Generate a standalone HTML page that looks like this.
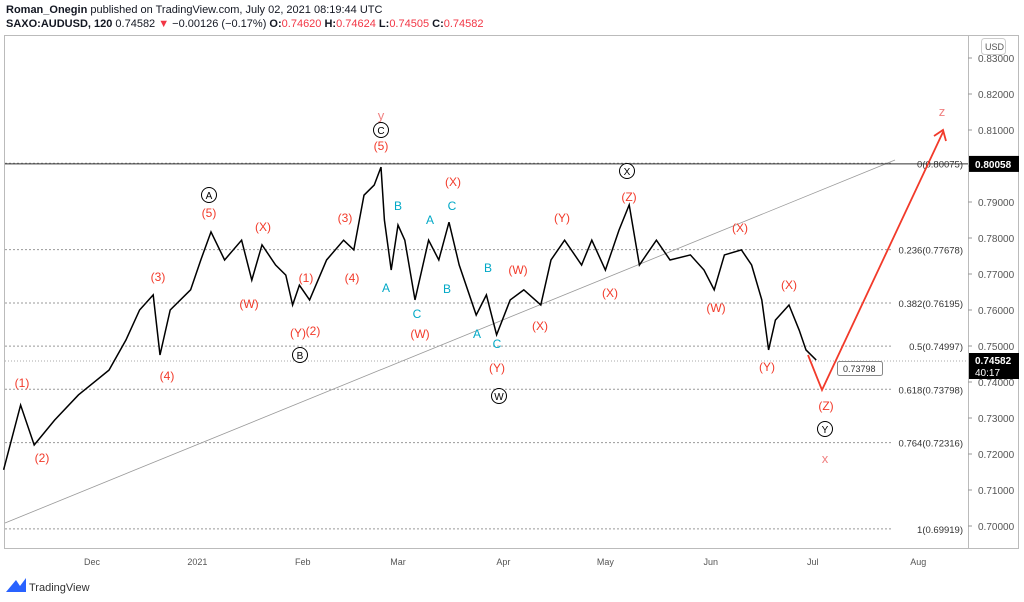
<!DOCTYPE html>
<html><head><meta charset="utf-8"><style>
body{margin:0;width:1024px;height:602px;background:#fff;font-family:"Liberation Sans",sans-serif;overflow:hidden;position:relative}
.hd{position:absolute;left:6px;font-size:11px;color:#131722;white-space:nowrap}
svg text{font-family:"Liberation Sans",sans-serif}
</style></head><body>
<div class="hd" style="top:4px"><b>Roman_Onegin</b> published on TradingView.com, July 02, 2021 08:19:44 UTC</div>
<div class="hd" style="top:18px"><b>SAXO:AUDUSD, 120</b> 0.74582 <span style="color:#f23645">▼</span> −0.00126 (−0.17%) <b>O:</b><span style="color:#f23645">0.74620</span> <b>H:</b><span style="color:#f23645">0.74624</span> <b>L:</b><span style="color:#f23645">0.74505</span> <b>C:</b><span style="color:#f23645">0.74582</span></div>
<svg id="c" width="1024" height="602" style="position:absolute;left:0;top:0"></svg>
<script>
const days=[-26,-21,-17,-11,-4,5,10,14,18,20,23,29,32,35,39,44,47,50,54,57,59,61,64,69,74,77,80,83,85,86,88,90,92,95,99,102,105,108,113,116,119,123,127,132,135,139,144,147,151,155,158,161,166,170,176,180,183,186,191,194,197,199,201,205,208,210,213];
const prices=[.7156,.7336,.7225,.7294,.7364,.7433,.7517,.76,.7642,.7475,.76,.7656,.7739,.7817,.7739,.7794,.7683,.7781,.7725,.7697,.7614,.7669,.7628,.7739,.7794,.7767,.7919,.7947,.7997,.785,.7711,.7836,.7794,.7628,.7794,.7739,.7844,.7725,.7586,.7642,.7531,.7628,.7656,.7614,.7739,.7794,.7725,.7794,.7711,.7822,.7892,.7725,.7794,.7739,.7753,.7711,.7656,.7753,.7767,.7725,.7628,.7489,.7572,.7614,.7544,.7489,.7461];
const yTicks=[0.83,0.82,0.81,0.80,0.79,0.78,0.77,0.76,0.75,0.74,0.73,0.72,0.71,0.70];
const fibRatios=["0","0.236","0.382","0.5","0.618","0.764","1"];
const fibPrices=[0.80075,0.77678,0.76195,0.74997,0.73798,0.72316,0.69919];
const monthLabels=["Dec","2021","Feb","Mar","Apr","May","Jun","Jul","Aug"];
const monthDays=[0,31,62,90,121,151,182,212,243];
const X=d=>92+d*3.4;
const Y=p=>58+(0.83-p)*3600;
const svg=document.getElementById('c');const NS='http://www.w3.org/2000/svg';
function mk(t,a,txt){const e=document.createElementNS(NS,t);for(const k in a)e.setAttribute(k,a[k]);if(txt!=null)e.textContent=txt;svg.appendChild(e);return e;}
let e;
e=mk('rect',{x:4.5,y:35.5,width:1014,height:513,fill:'none',stroke:'#bbb'});


e=mk('line',{x1:968.5,y1:35,x2:968.5,y2:548,stroke:'#bbb'});


e=mk('line',{x1:4,y1:548.5,x2:1018,y2:548.5,stroke:'#bbb'});


yTicks.forEach(p=>{const y=Y(p);
e=mk('line',{x1:968,y1:y,x2:972,y2:y,stroke:'#999'});


e=mk('text',{x:978,y:y+4,'font-size':10,fill:'#555'},p.toFixed(5));

});
e=mk('rect',{x:981.5,y:38.5,width:24,height:16,rx:3,fill:'#fff',stroke:'#ccc'});


e=mk('text',{x:985,y:50,'font-size':9,fill:'#555'},'USD');


monthLabels.forEach((m,i)=>{
e=mk('text',{x:X(monthDays[i]),y:565,'font-size':9,fill:'#555','text-anchor':'middle'},m);

});
e=mk('line',{x1:5,y1:523,x2:895,y2:160,stroke:'#999','stroke-width':0.8});


fibPrices.forEach((p,i)=>{const y=Y(p);
e=mk('line',{x1:5,y1:y,x2:893,y2:y,stroke:'#999','stroke-dasharray':'2,2'});


e=mk('text',{x:963,y:y+4,'font-size':9.5,fill:'#333','text-anchor':'end'},fibRatios[i]+'('+p.toFixed(5)+')');

});
e=mk('line',{x1:5,y1:Y(0.80058),x2:968,y2:Y(0.80058),stroke:'#333'});


e=mk('line',{x1:5,y1:Y(0.74582),x2:968,y2:Y(0.74582),stroke:'#aaa','stroke-dasharray':'1,2'});


e=mk('polyline',{points:days.map((d,i)=>X(d)+','+Y(prices[i])).join(' '),fill:'none',stroke:'#000','stroke-width':1.5});


e=mk('rect',{x:969,y:Y(0.80058)-8,width:50,height:16,fill:'#000'});


e=mk('text',{x:975,y:Y(0.80058)+4,'font-size':10,'font-weight':'bold',fill:'#fff'},'0.80058');


e=mk('rect',{x:969,y:353,width:50,height:26,fill:'#000'});


e=mk('text',{x:975,y:364,'font-size':10,'font-weight':'bold',fill:'#fff'},'0.74582');


e=mk('text',{x:975,y:376,'font-size':10,fill:'#fff'},'40:17');


e=mk('polyline',{points:'808,355 822,390 943,132',fill:'none',stroke:'#f23a2a','stroke-width':1.8});


e=mk('polyline',{points:'934,136 943,130 946,141',fill:'none',stroke:'#f23a2a','stroke-width':1.8});


e=mk('rect',{x:837.5,y:361.5,width:45,height:14,rx:2,fill:'#fff',stroke:'#888'});


e=mk('text',{x:843,y:372,'font-size':9,fill:'#333'},'0.73798');


const redL=[["(1)",22,387],["(2)",42,462],["(3)",158,281],["(4)",167,380],["(5)",209,217],["(X)",263,231],["(W)",249,308],["(Y)",298,337],["(2)",313,335],["(1)",306,282],["(3)",345,222],["(4)",352,282],["(5)",381,150],["(X)",453,186],["(W)",420,338],["(Y)",497,372],["(X)",540,330],["(W)",518,274],["(Y)",562,222],["(Z)",629,201],["(X)",610,297],["(X)",740,232],["(W)",716,312],["(Y)",767,371],["(X)",789,289],["(Z)",826,410]];
redL.forEach(l=>{e=mk('text',{x:l[1],y:l[2],'font-size':12,fill:'#f23a2a','text-anchor':'middle'},l[0]);

});
const pinkL=[["y",381,120],["z",942,116],["x",825,463]];
pinkL.forEach(l=>{e=mk('text',{x:l[1],y:l[2],'font-size':13,fill:'#f08080','text-anchor':'middle'},l[0]);

});
const cyanL=[["B",398,210],["A",386,292],["C",417,318],["A",430,224],["C",452,210],["B",447,293],["B",488,272],["A",477,338],["C",497,348]];
cyanL.forEach(l=>{e=mk('text',{x:l[1],y:l[2],'font-size':12,fill:'#00a8c6','text-anchor':'middle'},l[0]);

});
const circL=[["A",209,195],["B",300,355],["C",381,130],["X",627,171],["W",499,396],["Y",825,429]];
circL.forEach(l=>{e=mk('circle',{cx:l[1],cy:l[2],r:7.5,fill:'#fff',stroke:'#000'});


e=mk('text',{x:l[1],y:l[2]+4,'font-size':10,fill:'#000','text-anchor':'middle'},l[0]);

});
e=mk('path',{d:'M6 592 L16 580 L20 586 L26 578 L26 592 Z',fill:'#2962ff'});


e=mk('text',{x:29,y:591,'font-size':11,fill:'#333'},'TradingView');


</script>
</body></html>
